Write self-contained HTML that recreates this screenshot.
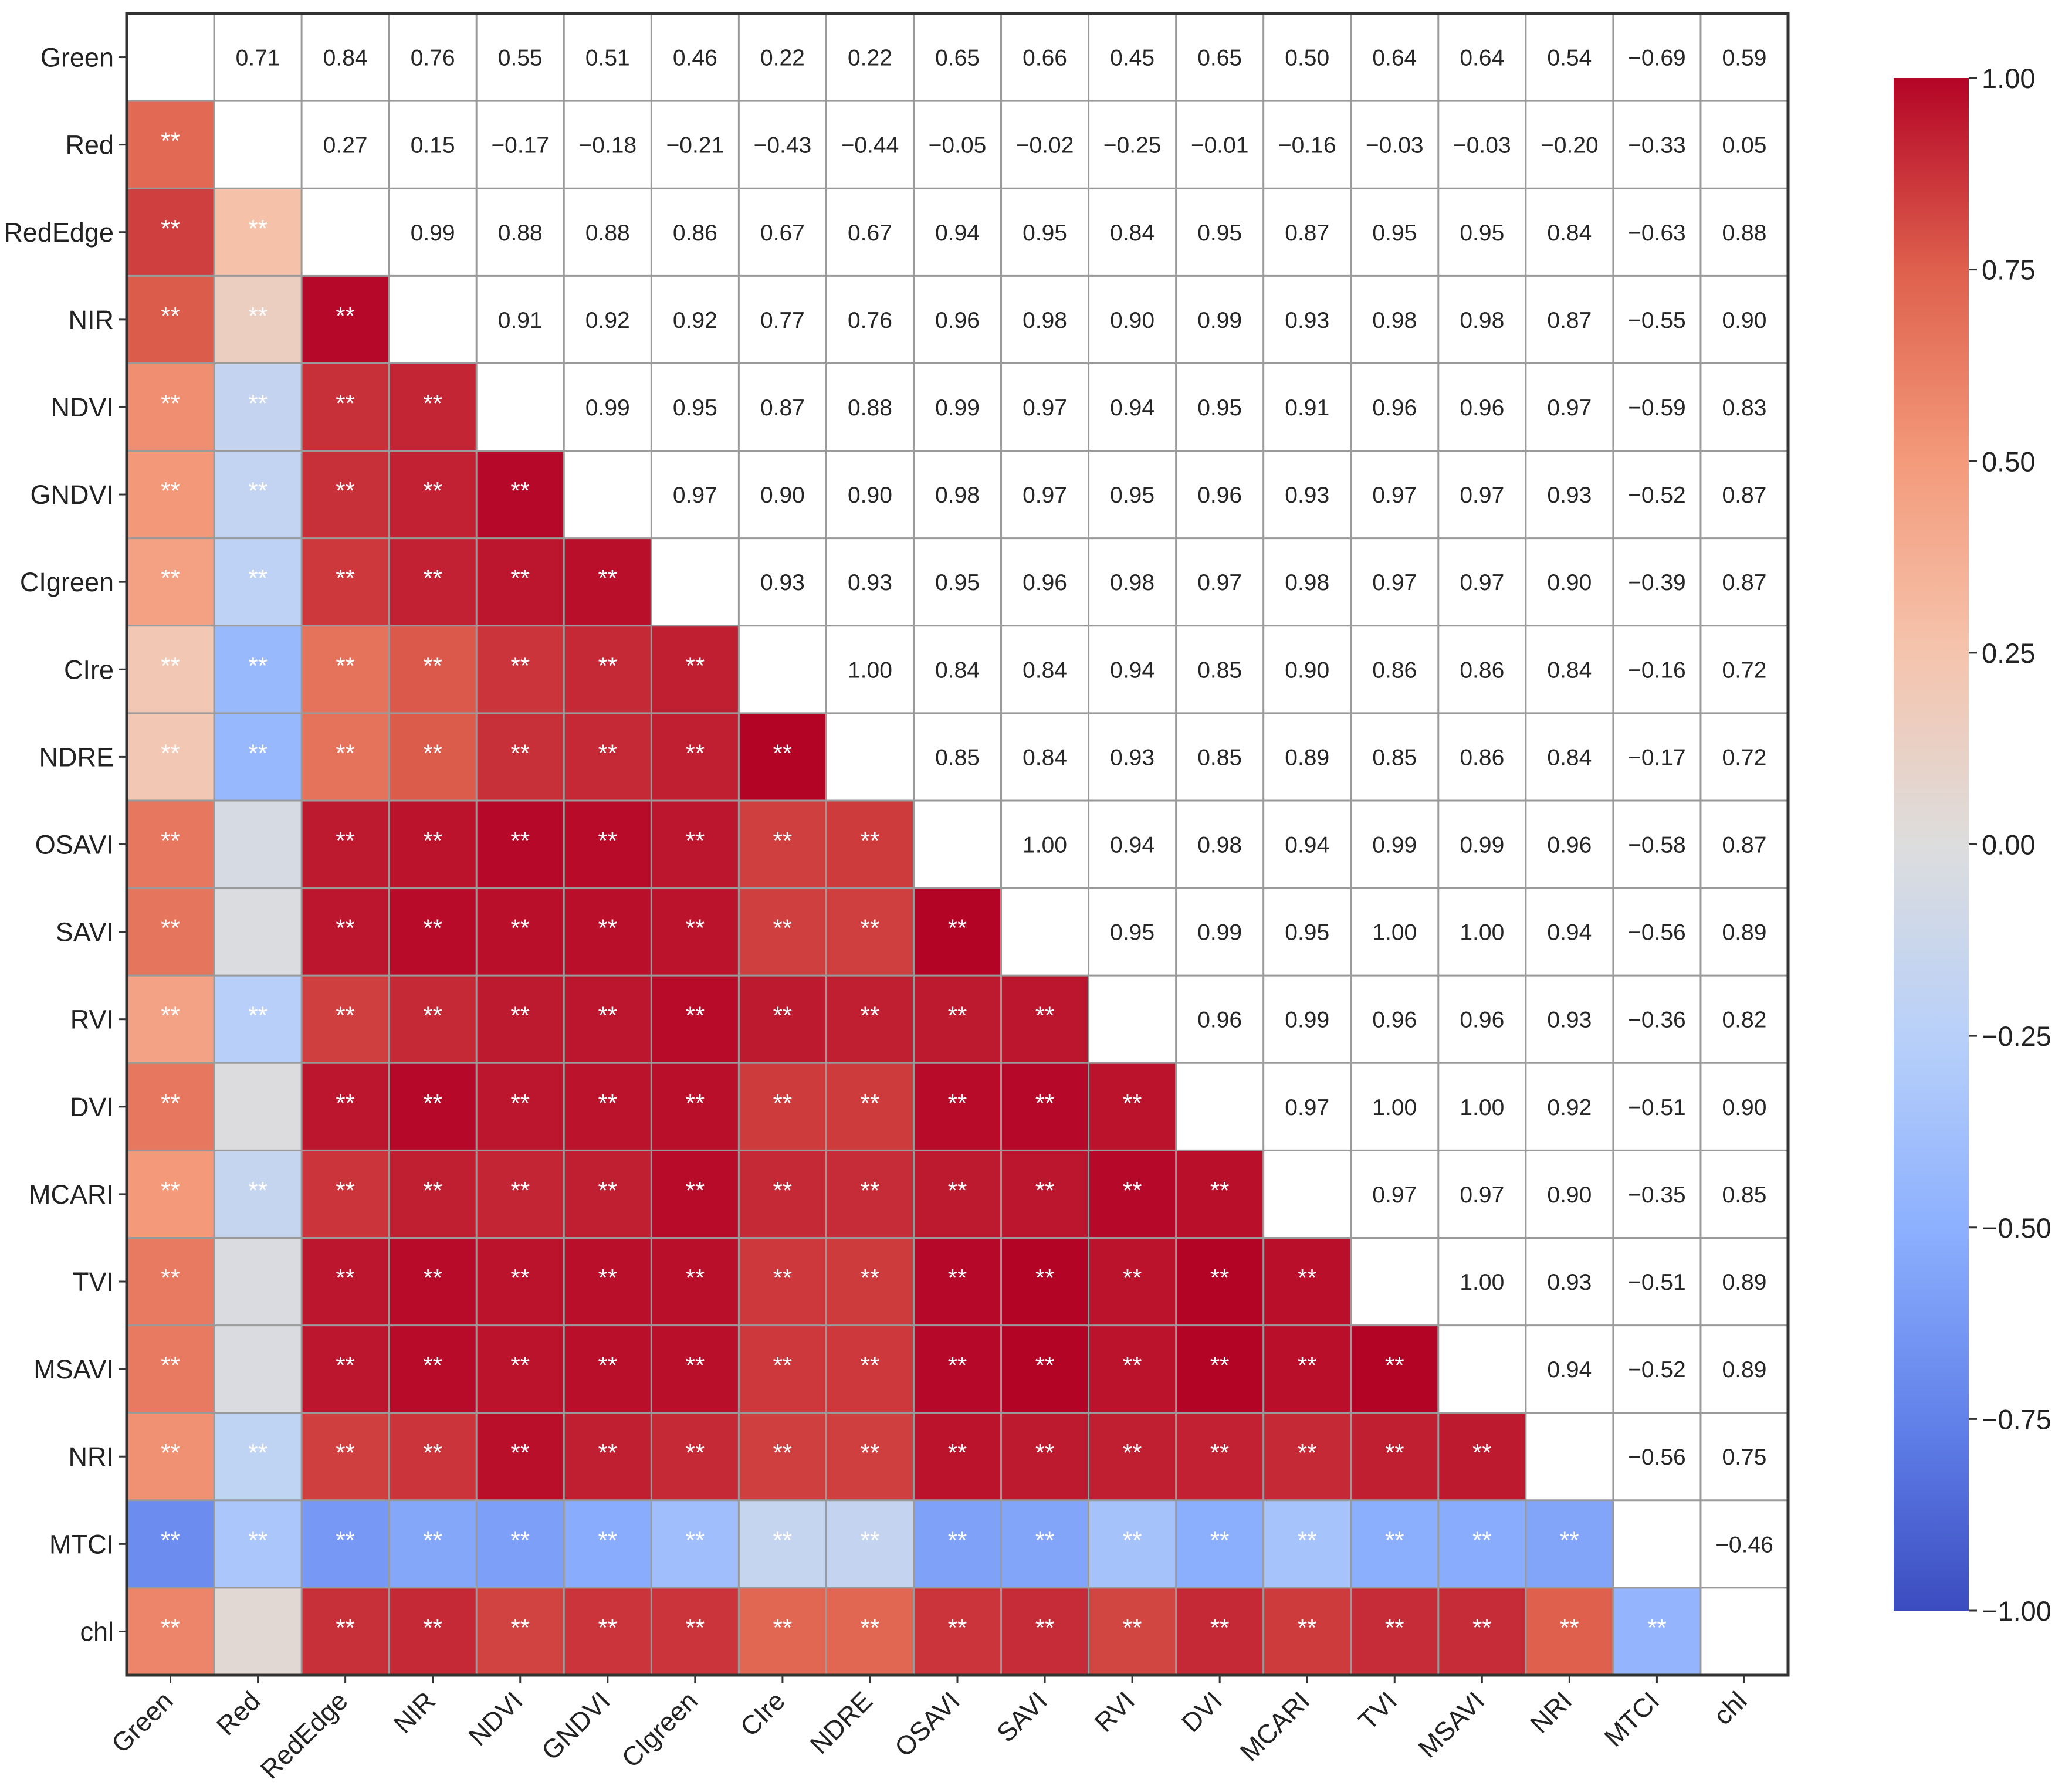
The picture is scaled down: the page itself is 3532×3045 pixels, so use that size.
<!DOCTYPE html>
<html><head><meta charset="utf-8"><style>
html,body{margin:0;padding:0;background:#fff;}
svg{display:block;font-family:"Liberation Sans","DejaVu Sans",sans-serif;}
</style></head><body>
<svg id="chart" width="3532" height="3045" viewBox="0 0 3532 3045" xmlns="http://www.w3.org/2000/svg">
<defs>
<linearGradient id="cbgrad" x1="0" y1="1" x2="0" y2="0">
<stop offset="0" stop-color="rgb(59,76,192)"/><stop offset="0.125" stop-color="rgb(98,130,234)"/>
<stop offset="0.25" stop-color="rgb(141,176,254)"/><stop offset="0.375" stop-color="rgb(184,208,249)"/>
<stop offset="0.5" stop-color="rgb(221,221,221)"/><stop offset="0.625" stop-color="rgb(245,196,173)"/>
<stop offset="0.75" stop-color="rgb(244,154,123)"/><stop offset="0.875" stop-color="rgb(222,96,77)"/>
<stop offset="1" stop-color="rgb(180,4,38)"/>
</linearGradient>
</defs>
<g id="cells"></g><g id="grid"></g><g id="labels"></g><g id="cbar"></g>
</svg>
<script>
const categories = ["Green","Red","RedEdge","NIR","NDVI","GNDVI","CIgreen","CIre","NDRE","OSAVI","SAVI","RVI","DVI","MCARI","TVI","MSAVI","NRI","MTCI","chl"];
const row0 = [0.71,0.84,0.76,0.55,0.51,0.46,0.22,0.22,0.65,0.66,0.45,0.65,0.50,0.64,0.64,0.54,-0.69,0.59];
const row1 = [0.27,0.15,-0.17,-0.18,-0.21,-0.43,-0.44,-0.05,-0.02,-0.25,-0.01,-0.16,-0.03,-0.03,-0.20,-0.33,0.05];
const row2 = [0.99,0.88,0.88,0.86,0.67,0.67,0.94,0.95,0.84,0.95,0.87,0.95,0.95,0.84,-0.63,0.88];
const row3 = [0.91,0.92,0.92,0.77,0.76,0.96,0.98,0.90,0.99,0.93,0.98,0.98,0.87,-0.55,0.90];
const row4 = [0.99,0.95,0.87,0.88,0.99,0.97,0.94,0.95,0.91,0.96,0.96,0.97,-0.59,0.83];
const row5 = [0.97,0.90,0.90,0.98,0.97,0.95,0.96,0.93,0.97,0.97,0.93,-0.52,0.87];
const row6 = [0.93,0.93,0.95,0.96,0.98,0.97,0.98,0.97,0.97,0.90,-0.39,0.87];
const row7 = [1.00,0.84,0.84,0.94,0.85,0.90,0.86,0.86,0.84,-0.16,0.72];
const row8 = [0.85,0.84,0.93,0.85,0.89,0.85,0.86,0.84,-0.17,0.72];
const row9 = [1.00,0.94,0.98,0.94,0.99,0.99,0.96,-0.58,0.87];
const row10 = [0.95,0.99,0.95,1.00,1.00,0.94,-0.56,0.89];
const row11 = [0.96,0.99,0.96,0.96,0.93,-0.36,0.82];
const row12 = [0.97,1.00,1.00,0.92,-0.51,0.90];
const row13 = [0.97,0.97,0.90,-0.35,0.85];
const row14 = [1.00,0.93,-0.51,0.89];
const row15 = [0.94,-0.52,0.89];
const row16 = [-0.56,0.75];
const row17 = [-0.46];
const upperRows = [row0,row1,row2,row3,row4,row5,row6,row7,row8,row9,row10,row11,row12,row13,row14,row15,row16,row17];
const cbTicks = [1.00,0.75,0.50,0.25,0.00,-0.25,-0.50,-0.75,-1.00];

const NS="http://www.w3.org/2000/svg";
const L=216,R=3048,T=23,B=2856,n=categories.length;
const cw=(R-L)/n, ch=(B-T)/n;
const xPos=i=>L+i*cw, yPos=i=>T+i*ch;
const cbTop=133,cbBot=2746,cbL=3228,cbR=3356;
const cbY=v=>cbBot-(v+1)/2*(cbBot-cbTop);
const anchors=[[59,76,192],[98,130,234],[141,176,254],[184,208,249],[221,221,221],[245,196,173],[244,154,123],[222,96,77],[180,4,38]];
function cmap(v){let t=(v+1)/2*8;t=Math.max(0,Math.min(8,t));const i=Math.min(7,Math.floor(t)),f=t-i;
 const a=anchors[i],b=anchors[i+1];return `rgb(${a.map((c,k)=>Math.round(c+(b[k]-c)*f)).join(',')})`;}
function corr(i,j){if(i===j)return 1;const a=Math.min(i,j),b=Math.max(i,j);return upperRows[a][b-a-1];}
function mk(tag,attrs,parent,text){const e=document.createElementNS(NS,tag);for(const k in attrs)e.setAttribute(k,attrs[k]);if(text!==undefined)e.textContent=text;parent.appendChild(e);return e;}
const gc=document.getElementById('cells'),gg=document.getElementById('grid'),gl=document.getElementById('labels'),gb=document.getElementById('cbar');
const fmt=v=>(v<0?'\u2212':'')+Math.abs(v).toFixed(2);
for(let i=0;i<n;i++){for(let j=0;j<n;j++){
 const v=corr(i,j);
 if(i>j){
  const r=mk('rect',{x:xPos(j),y:yPos(i),width:cw+0.5,height:ch+0.5,fill:cmap(v)},gc);
  
  
  if(Math.abs(v)>=0.1){const s=mk('text',{x:xPos(j)+cw/2,y:yPos(i)+ch/2+8,'text-anchor':'middle','font-size':42,fill:'#fff'},gc,'**');
   
   }
 } else if(i<j){
  const t=mk('text',{x:xPos(j)+cw/2,y:yPos(i)+ch/2+14,'text-anchor':'middle','font-size':39,fill:'#262626'},gc,fmt(v));
  
  
 }
}}
for(let k=1;k<n;k++){
 mk('line',{x1:xPos(k),y1:T,x2:xPos(k),y2:B,stroke:'#9a9a9a','stroke-width':3},gg);
 mk('line',{x1:L,y1:yPos(k),x2:R,y2:yPos(k),stroke:'#9a9a9a','stroke-width':3},gg);
}
const fr=mk('rect',{x:L,y:T,width:R-L,height:B-T,fill:'none',stroke:'#333','stroke-width':5},gg);


categories.forEach((c,i)=>{
 const cy=yPos(i)+ch/2, cx=xPos(i)+cw/2;
 mk('line',{x1:L-14,y1:cy,x2:L,y2:cy,stroke:'#333','stroke-width':3},gl);
 mk('line',{x1:cx,y1:B,x2:cx,y2:B+14,stroke:'#333','stroke-width':3},gl);
 const yl=mk('text',{x:L-22,y:cy+16,'text-anchor':'end','font-size':45,fill:'#222'},gl,c);
 
 
 const ex=cx-4, ey=B+36;
 const xl=mk('text',{x:ex,y:ey,'text-anchor':'end','font-size':45,fill:'#222',transform:`rotate(-45 ${ex} ${ey})`,'dominant-baseline':'central'},gl,c);
 
 
});
const cb=mk('rect',{x:cbL,y:cbTop,width:cbR-cbL,height:cbBot-cbTop,fill:'url(#cbgrad)'},gb);


cbTicks.forEach(v=>{
 const y=cbY(v);
 mk('line',{x1:cbR,y1:y,x2:cbR+14,y2:y,stroke:'#333','stroke-width':3},gb);
 const t=mk('text',{x:cbR+22,y:y+17,'font-size':47,fill:'#222'},gb,fmt(v));
 
 
});
</script>
</body></html>
